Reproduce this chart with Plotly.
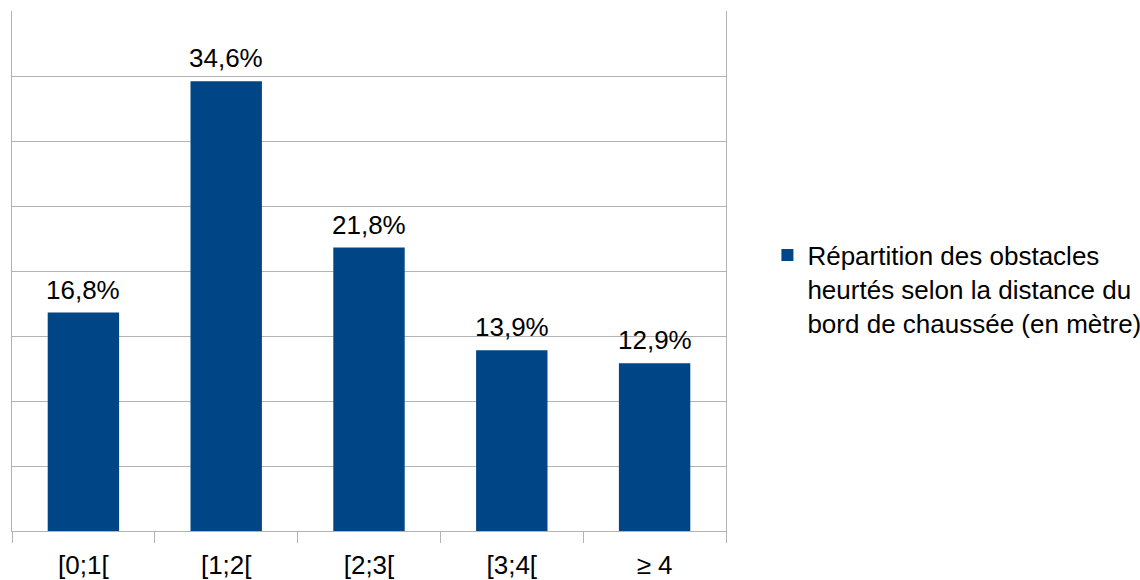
import plotly.graph_objects as go

categories = ["[0;1[", "[1;2[", "[2;3[", "[3;4[", "≥ 4"]
values = [16.8, 34.6, 21.8, 13.9, 12.9]
labels = ["16,8%", "34,6%", "21,8%", "13,9%", "12,9%"]
series_name = "Répartition des obstacles<br>heurtés selon la distance du<br>bord de chaussée (en mètre)"

FONT = "Liberation Sans, Arial, sans-serif"
GRID = "#b3b3b3"
FS = 26

fig = go.Figure(go.Bar(
    x=categories, y=values,
    marker=dict(color="#004586", line=dict(width=0)),
    width=0.5, name=series_name, showlegend=True, cliponaxis=False,
))

for c, v, t in zip(categories, values, labels):
    fig.add_annotation(x=c, y=v, text=t, showarrow=False, yanchor="bottom",
                       yshift=6, font=dict(size=FS, color="black", family=FONT))

fig.update_layout(
    width=1140, height=580,
    margin=dict(l=12, r=414, t=11, b=49, autoexpand=False),
    paper_bgcolor="white", plot_bgcolor="white",
    font=dict(family=FONT, size=FS, color="black"),
    legend=dict(x=1.058, xanchor="left", y=0.465, yanchor="middle", valign="top",
                font=dict(size=FS, color="black", family=FONT),
                itemsizing="constant", tracegroupgap=0, borderwidth=0),
    xaxis=dict(type="category", tickson="boundaries", ticks="outside", ticklen=11,
               tickcolor=GRID, showline=True, linecolor=GRID, linewidth=1,
               showgrid=False, tickfont=dict(size=FS, color="black"),
               ticklabelstandoff=11, automargin=False),
    yaxis=dict(range=[0, 40], dtick=5, showgrid=True, gridcolor=GRID, gridwidth=1,
               showticklabels=False, showline=True, linecolor=GRID, mirror=True,
               zeroline=False, ticks="", automargin=False),
    bargap=0.5,
)

fig.write_html("out.html")
